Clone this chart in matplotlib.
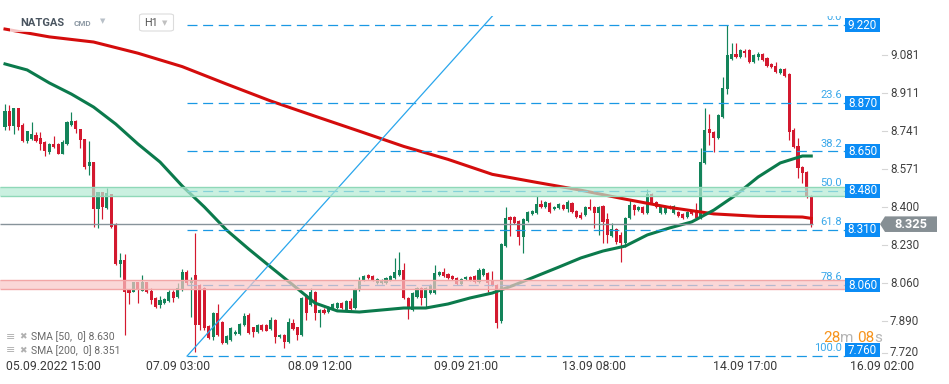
import matplotlib

matplotlib.use("Agg")

import matplotlib.pyplot as plt
import matplotlib.transforms as mtransforms
import numpy as np
from matplotlib.patches import FancyBboxPatch, Polygon, Rectangle

plt.rcParams["font.family"] = ["Roboto", "DejaVu Sans"]

# NATGAS H1 candles
opens = [
    8.760, 8.831, 8.764, 8.845, 8.769, 8.697, 8.706, 8.724, 8.711, 8.693,
    8.648, 8.684, 8.684, 8.639, 8.684, 8.769, 8.787, 8.751, 8.706, 8.585,
    8.603, 8.393, 8.469, 8.397, 8.460, 8.326, 8.147, 8.165, 8.035, 8.022,
    8.066, 8.026, 8.066, 8.026, 7.995, 7.964, 7.972, 7.981, 8.022, 7.999,
    8.031, 8.111, 8.062, 8.098, 8.053, 8.040, 7.869, 7.820, 7.928, 7.887,
    7.793, 7.807, 7.834, 7.834, 7.874, 7.919, 7.865, 7.843, 7.874, 7.874,
    7.856, 7.896, 7.820, 7.829, 7.798, 7.883, 7.865, 7.829, 8.008, 7.964,
    8.022, 7.928, 7.941, 7.932, 7.950, 7.950, 7.972, 7.941, 7.981, 7.950,
    8.031, 8.075, 8.098, 8.093, 8.062, 8.062, 8.062, 8.075, 8.084, 8.098,
    8.120, 7.995, 7.941, 7.999, 8.040, 7.995, 8.017, 8.017, 8.098, 8.111,
    8.102, 8.093, 8.084, 8.057, 8.080, 8.089, 8.093, 8.066, 8.098, 8.107,
    8.071, 8.053, 7.892, 8.228, 8.357, 8.357, 8.339, 8.268, 8.339, 8.371,
    8.375, 8.415, 8.402, 8.420, 8.393, 8.397, 8.411, 8.393, 8.420, 8.384,
    8.366, 8.366, 8.402, 8.402, 8.375, 8.406, 8.348, 8.272, 8.303, 8.277,
    8.241, 8.353, 8.411, 8.389, 8.402, 8.375, 8.460, 8.424, 8.375, 8.375,
    8.406, 8.375, 8.380, 8.371, 8.357, 8.384, 8.380, 8.353, 8.599, 8.751,
    8.737, 8.711, 8.805, 8.930, 9.064, 9.086, 9.073, 9.100, 9.104, 9.051,
    9.073, 9.086, 9.068, 9.042, 9.033, 9.002, 9.019, 8.997, 8.746, 8.675,
    8.581, 8.558, 8.451,
]
highs = [
    8.863, 8.858, 8.847, 8.847, 8.778, 8.744, 8.782, 8.737, 8.737, 8.695,
    8.686, 8.720, 8.686, 8.702, 8.785, 8.827, 8.789, 8.753, 8.708, 8.697,
    8.605, 8.471, 8.471, 8.487, 8.462, 8.330, 8.196, 8.192, 8.037, 8.068,
    8.068, 8.098, 8.068, 8.040, 7.997, 8.004, 7.995, 8.031, 8.031, 8.062,
    8.125, 8.120, 8.089, 8.286, 8.058, 8.044, 7.872, 7.930, 7.968, 7.890,
    7.830, 7.865, 7.850, 7.881, 7.928, 7.928, 7.867, 7.878, 7.878, 7.878,
    7.910, 7.899, 7.834, 7.832, 7.905, 7.901, 7.867, 7.999, 8.013, 8.040,
    8.026, 7.945, 7.950, 7.959, 7.972, 7.977, 7.977, 7.986, 7.995, 8.040,
    8.089, 8.098, 8.102, 8.098, 8.084, 8.080, 8.089, 8.098, 8.174, 8.201,
    8.151, 7.999, 8.022, 8.044, 8.044, 8.044, 8.058, 8.142, 8.116, 8.129,
    8.107, 8.098, 8.089, 8.084, 8.093, 8.093, 8.098, 8.129, 8.129, 8.111,
    8.116, 8.058, 8.240, 8.402, 8.362, 8.362, 8.344, 8.353, 8.384, 8.389,
    8.451, 8.433, 8.429, 8.424, 8.406, 8.420, 8.415, 8.433, 8.424, 8.389,
    8.380, 8.406, 8.438, 8.406, 8.406, 8.411, 8.375, 8.330, 8.308, 8.290,
    8.357, 8.438, 8.415, 8.406, 8.406, 8.482, 8.464, 8.429, 8.406, 8.411,
    8.411, 8.411, 8.384, 8.375, 8.384, 8.389, 8.420, 8.666, 8.845, 8.818,
    8.742, 8.818, 8.983, 9.216, 9.136, 9.136, 9.109, 9.109, 9.109, 9.086,
    9.095, 9.091, 9.073, 9.046, 9.051, 9.024, 9.024, 9.002, 8.755, 8.711,
    8.585, 8.563, 8.456,
]
lows = [
    8.746, 8.746, 8.728, 8.746, 8.694, 8.688, 8.703, 8.694, 8.657, 8.630,
    8.639, 8.668, 8.637, 8.637, 8.680, 8.766, 8.733, 8.666, 8.572, 8.545,
    8.312, 8.308, 8.348, 8.395, 8.308, 8.143, 8.089, 7.829, 7.968, 8.020,
    7.972, 8.024, 8.018, 7.968, 7.950, 7.950, 7.968, 7.977, 7.977, 7.995,
    8.027, 8.053, 7.910, 7.753, 7.852, 7.852, 7.812, 7.807, 7.825, 7.789,
    7.789, 7.803, 7.830, 7.830, 7.870, 7.834, 7.820, 7.838, 7.849, 7.845,
    7.852, 7.793, 7.816, 7.771, 7.794, 7.852, 7.807, 7.825, 7.896, 7.960,
    7.896, 7.865, 7.924, 7.928, 7.946, 7.946, 7.946, 7.937, 7.941, 7.946,
    8.026, 8.071, 8.080, 8.071, 8.058, 8.058, 8.058, 8.071, 8.080, 8.093,
    7.990, 7.901, 7.937, 7.995, 7.964, 7.955, 8.013, 8.013, 8.093, 8.089,
    8.080, 8.075, 8.053, 8.053, 8.075, 8.071, 8.062, 8.062, 8.093, 8.022,
    8.049, 7.861, 7.883, 8.224, 8.272, 8.326, 8.232, 8.196, 8.335, 8.366,
    8.371, 8.398, 8.398, 8.375, 8.389, 8.393, 8.389, 8.380, 8.375, 8.353,
    8.348, 8.362, 8.389, 8.308, 8.277, 8.241, 8.241, 8.268, 8.236, 8.156,
    8.223, 8.348, 8.366, 8.384, 8.371, 8.371, 8.415, 8.398, 8.371, 8.371,
    8.393, 8.371, 8.357, 8.348, 8.353, 8.366, 8.344, 8.348, 8.594, 8.679,
    8.648, 8.706, 8.800, 8.907, 9.060, 9.068, 9.068, 9.073, 9.046, 9.046,
    9.060, 9.055, 9.028, 9.024, 9.002, 8.997, 8.983, 8.702, 8.666, 8.532,
    8.509, 8.442, 8.312,
]
closes = [
    8.831, 8.764, 8.845, 8.760, 8.697, 8.742, 8.728, 8.697, 8.684, 8.652,
    8.684, 8.670, 8.639, 8.693, 8.782, 8.787, 8.751, 8.702, 8.581, 8.603,
    8.393, 8.469, 8.402, 8.465, 8.312, 8.147, 8.165, 8.022, 8.017, 8.066,
    8.031, 8.066, 8.022, 7.986, 7.955, 7.986, 7.990, 8.022, 7.995, 8.040,
    8.111, 8.062, 8.075, 7.874, 7.874, 7.861, 7.816, 7.928, 7.829, 7.793,
    7.825, 7.861, 7.843, 7.878, 7.914, 7.838, 7.843, 7.874, 7.852, 7.847,
    7.896, 7.820, 7.829, 7.798, 7.887, 7.856, 7.829, 7.995, 7.928, 8.022,
    7.928, 7.941, 7.928, 7.955, 7.968, 7.972, 7.950, 7.981, 7.946, 8.035,
    8.075, 8.093, 8.084, 8.075, 8.080, 8.075, 8.084, 8.093, 8.111, 8.120,
    7.995, 7.950, 8.017, 8.040, 7.995, 8.040, 8.053, 8.107, 8.111, 8.093,
    8.084, 8.080, 8.057, 8.080, 8.089, 8.075, 8.066, 8.120, 8.125, 8.062,
    8.053, 7.883, 8.236, 8.353, 8.344, 8.330, 8.268, 8.348, 8.380, 8.384,
    8.415, 8.402, 8.424, 8.380, 8.402, 8.415, 8.393, 8.424, 8.380, 8.357,
    8.353, 8.402, 8.393, 8.375, 8.402, 8.335, 8.277, 8.303, 8.245, 8.241,
    8.353, 8.411, 8.389, 8.402, 8.375, 8.460, 8.420, 8.402, 8.402, 8.406,
    8.397, 8.406, 8.362, 8.353, 8.380, 8.371, 8.353, 8.603, 8.746, 8.733,
    8.711, 8.813, 8.934, 9.082, 9.086, 9.073, 9.104, 9.091, 9.051, 9.082,
    9.086, 9.060, 9.033, 9.028, 9.006, 9.019, 8.988, 8.737, 8.670, 8.576,
    8.554, 8.447, 8.325,
]

# moving averages, read at candle positions
sma200_at = [0, 10, 20, 30, 40, 50, 60, 70, 80, 90,
             100, 110, 120, 130, 140, 150, 160, 170, 180, 182]
sma200 = [9.198, 9.163, 9.140, 9.090, 9.030, 8.952, 8.876, 8.808, 8.741, 8.673,
          8.615, 8.548, 8.512, 8.477, 8.437, 8.400, 8.371, 8.360, 8.357, 8.351]
sma50_at = [0, 5, 10, 15, 20, 25, 30, 35, 40, 45, 50, 55, 60, 65, 70, 75, 80, 85, 90,
            95, 100, 105, 110, 115, 120, 125, 130, 135, 140, 145, 150, 155, 160,
            165, 170, 175, 180, 182]
sma50 = [9.042, 9.015, 8.957, 8.907, 8.849, 8.773, 8.684, 8.603, 8.496, 8.402,
         8.299, 8.214, 8.133, 8.053, 7.972, 7.937, 7.932, 7.941, 7.950, 7.950,
         7.968, 7.995, 8.017, 8.053, 8.093, 8.133, 8.174, 8.205, 8.227, 8.277,
         8.308, 8.335, 8.388, 8.456, 8.536, 8.599, 8.630, 8.630]

# fibonacci retracement
fib_high = 9.216
fib_low = 7.735
fib_start = 41
fib_percent = [0.0, 23.6, 38.2, 50.0, 61.8, 78.6, 100.0]
fib_price_labels = ["9.220", "8.870", "8.650", "8.480", "8.310", "8.060", "7.760"]

# support / resistance zones (low, high)
zones = [(8.452, 8.490), (8.036, 8.075)]
zone_fill = ["#b4ebd4", "#f9c6c6"]
zone_edge = ["#8fd8b8", "#f2a6a6"]

# trend line (candle position, price)
trend_x = [41.1, 112.0]
trend_y = [7.735, 9.300]

y_ticks = [9.081, 8.911, 8.741, 8.571, 8.400, 8.230, 8.060, 7.890, 7.720]
time_positions = [0.2, 39, 71, 104, 133, 167, 198]
time_labels = ["05.09.2022 15:00", "07.09 03:00", "08.09 12:00", "09.09 21:00",
               "13.09 08:00", "14.09 17:00", "16.09 02:00"]

sma_legend = ["SMA [50,  0] 8.630", "SMA [200,  0] 8.351"]
countdown = ["28", "m ", "08", "s"]

# layout in pixels
W, H = 949, 384
AX_RIGHT, AX_TOP, AX_BOTTOM = 880, 16, 358
STEP = 4.43
Y_LO, Y_HI = 7.7263, 9.2564
PX = (Y_HI - Y_LO) / (AX_BOTTOM - AX_TOP)

GREEN = "#13845a"
RED = "#d3192f"
BLUE = "#0b8cf5"
FIB_BLUE = "#1a98e4"

fig = plt.figure(figsize=(W / 100, H / 100), dpi=100)
ax = fig.add_axes([0, 1 - AX_BOTTOM / H, AX_RIGHT / W, (AX_BOTTOM - AX_TOP) / H])
ax.set_xlim(-5 / STEP, (AX_RIGHT - 5) / STEP)
ax.set_ylim(Y_LO, Y_HI)
ax.set_axis_off()

blend = mtransforms.blended_transform_factory(ax.transAxes, ax.transData)
blend_x = mtransforms.blended_transform_factory(ax.transData, ax.transAxes)


def ax_x(px):
    return px / AX_RIGHT


# candles
o = np.array(opens)
h = np.array(highs)
l = np.array(lows)
c = np.array(closes)
idx = np.arange(len(o))
colors = np.where(c >= o, GREEN, RED)
ax.vlines(idx, l, h, colors=colors, linewidth=0.85, zorder=2)
ax.bar(
    idx,
    np.maximum(np.abs(c - o), 0.004),
    bottom=np.minimum(o, c),
    width=0.7,
    color=colors,
    linewidth=0,
    zorder=3,
)

# moving averages
ax.plot(sma200_at, sma200, color="#d40c0c", linewidth=2.2, zorder=4)
ax.plot(sma50_at, sma50, color="#0b7a4c", linewidth=2.2, zorder=4)

# last price line
ax.hlines(c[-1], -5 / STEP, idx[-1] + 0.5, colors="#87939a", linewidth=1.0, zorder=4.6)

# trend line
ax.plot(trend_x, trend_y, color="#2aa6ec", linewidth=0.9, zorder=4.7)

# fibonacci levels
fib_end = (845 - 5) / STEP
fib_levels = [fib_high - (fib_high - fib_low) * p / 100 for p in fib_percent]
ax.hlines(
    fib_levels,
    fib_start,
    fib_end,
    colors=FIB_BLUE,
    linestyles=(0, (8, 4.5)),
    linewidth=0.9,
    zorder=4.5,
)

# zones drawn on top, semi transparent
for (lo, hi), fill, edge in zip(zones, zone_fill, zone_edge):
    ax.fill_between([-5 / STEP, fib_end], lo, hi, color=fill, alpha=0.7, linewidth=0, zorder=5)
    ax.hlines([lo, hi], -5 / STEP, fib_end, colors=edge, linewidth=1.0, zorder=5.1)

box_h = 14 * PX
for level, pct, label in zip(fib_levels, fib_percent, fib_price_labels):
    ax.annotate(
        f"{pct:.1f}",
        (ax_x(842), level),
        xycoords=blend,
        xytext=(0, 3.5),
        textcoords="offset points",
        ha="right",
        va="baseline",
        color="#3aa8ea",
        fontsize=8,
        zorder=6,
        clip_on=True,
    )
    yc = max(level, Y_LO + box_h / 2 + PX)
    ax.add_patch(
        Rectangle(
            (ax_x(845), yc - box_h / 2),
            ax_x(35),
            box_h,
            transform=blend,
            facecolor=BLUE,
            edgecolor="none",
            zorder=7,
            clip_on=False,
        )
    )
    ax.text(
        ax_x(862.5), yc, label, transform=blend, ha="center", va="center",
        color="white", fontsize=8.4, zorder=8, clip_on=False,
    )

# right price scale
for value in y_ticks:
    yv = max(value, Y_LO + 5.5 * PX)
    ax.plot([ax_x(882), ax_x(887)], [yv, yv], transform=blend, color="#d5d5d5",
            linewidth=0.8, clip_on=False)
    ax.text(ax_x(890), yv, f"{value:.3f}", transform=blend, ha="left", va="center",
            color="#404040", fontsize=8.4, clip_on=False)

# current price marker
p = c[-1]
mh = 7.8 * PX
ax.add_patch(
    Polygon(
        [
            (ax_x(880), p),
            (ax_x(885), p + mh),
            (ax_x(937), p + mh),
            (ax_x(937), p - mh),
            (ax_x(885), p - mh),
        ],
        closed=True,
        transform=blend,
        facecolor="#868f94",
        edgecolor="none",
        zorder=7,
        clip_on=False,
    )
)
ax.text(ax_x(911), p, f"{p:.3f}", transform=blend, ha="center", va="center",
        color="white", fontsize=9.2, fontweight="bold", zorder=8, clip_on=False)

# time axis
for pos, label in zip(time_positions, time_labels):
    ax.text(
        pos,
        -9 / (AX_BOTTOM - AX_TOP),
        label,
        transform=blend_x,
        ha="left" if pos < 1 else "center",
        va="center",
        color="#3a3a3a",
        fontsize=8.8,
        clip_on=False,
    )

# countdown to next candle
piece = fig.text(823 / W, 1 - 338 / H, countdown[0], color="#f7941d",
                 fontsize=11, va="center", ha="left", zorder=9)
for k, part in enumerate(countdown[1:], start=1):
    piece = ax.annotate(
        part,
        xy=(1, 0),
        xycoords=piece,
        va="bottom",
        ha="left",
        color="#f7941d" if k % 2 == 0 else "#b5b5b5",
        fontsize=11,
        zorder=9,
    )

# indicator legend, bottom left
for row, text in enumerate(sma_legend):
    y = 1 - (337 + 13.5 * row) / H
    fig.text(6 / W, y, "≡", color="#b0b0b0", fontsize=8, va="center", ha="left")
    fig.text(19 / W, y, "✖", color="#b0b0b0", fontsize=6.5, va="center", ha="left")
    fig.text(31 / W, y, text, color="#6a6a6a", fontsize=7.5, va="center", ha="left")

# instrument header
fig.patches.append(
    Rectangle((10 / W, 1 - 32 / H), 120 / W, 18 / H, transform=fig.transFigure,
              facecolor="white", alpha=0.75, edgecolor="none", zorder=8)
)
fig.text(20.5 / W, 1 - 22.5 / H, "NATGAS", color="#4a5560", fontsize=8,
         fontweight="bold", va="center", ha="left", zorder=9)
fig.text(74 / W, 1 - 23.5 / H, "CMD", color="#8d99a4", fontsize=5.8,
         fontweight="bold", va="center", ha="left", zorder=9)
fig.text(100 / W, 1 - 21.5 / H, "▼", color="#b8c0c8", fontsize=5, va="center",
         ha="left", family="DejaVu Sans", zorder=9)
fig.patches.append(
    FancyBboxPatch((139.5 / W, 1 - 31 / H), 34 / W, 17 / H,
                   boxstyle="round,pad=0,rounding_size=0.004",
                   transform=fig.transFigure, facecolor="white",
                   edgecolor="#dcdcdc", linewidth=0.8, zorder=8)
)
fig.text(144.5 / W, 1 - 23 / H, "H1", color="#555555", fontsize=7.8,
         va="center", ha="left", zorder=9)
fig.text(162 / W, 1 - 23 / H, "▼", color="#c0c0c0", fontsize=5, va="center",
         ha="left", family="DejaVu Sans", zorder=9)

fig.savefig("out.png", dpi=100)
